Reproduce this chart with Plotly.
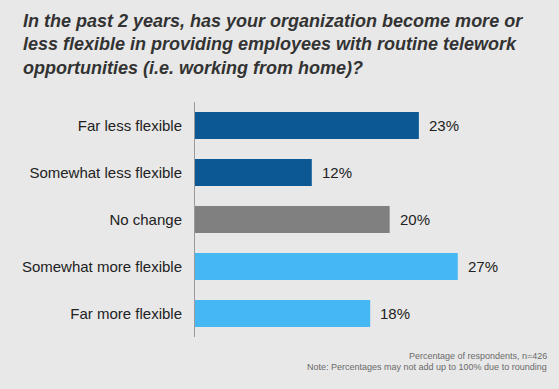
import plotly.graph_objects as go

categories = ["Far less flexible", "Somewhat less flexible", "No change",
              "Somewhat more flexible", "Far more flexible"]
values = [23, 12, 20, 27, 18]
bar_colors = ["#0b5894", "#0b5894", "#808080", "#45b8f3", "#45b8f3"]
value_labels = [f"{v}%" for v in values]

title_text = ("In the past 2 years, has your organization become more or<br>"
              "less flexible in providing employees with routine telework<br>"
              "opportunities (i.e. working from home)?")
note1 = "Percentage of respondents, n=426"
note2 = "Note: Percentages may not add up to 100% due to rounding"

BG = "#e8e8e8"
FONT = "Liberation Sans, Arial, sans-serif"
L, R, T, B = 195, 72, 102, 52
PW = 559 - L - R

fig = go.Figure(go.Bar(
    x=values, y=categories, orientation="h",
    marker=dict(color=bar_colors, line=dict(width=0)),
    width=0.575, hoverinfo="skip",
))

for v, c, t in zip(values, categories, value_labels):
    fig.add_annotation(x=v, y=c, text=t, showarrow=False, xanchor="left",
                       xshift=8, font=dict(size=15, color="#222222", family=FONT))

fig.add_annotation(xref="paper", yref="paper", x=(21 - L) / PW, y=1,
                   text=title_text, showarrow=False, xanchor="left",
                   yanchor="top", align="left", yshift=T - 9,
                   font=dict(size=18, color="#333333", family=FONT,
                             weight="bold", style="italic"))

fig.add_annotation(xref="paper", yref="paper", x=1, y=0, text=note1,
                   showarrow=False, xanchor="right", yanchor="middle",
                   xshift=62, yshift=-19,
                   font=dict(size=9, color="#6a6a6a", family=FONT))
fig.add_annotation(xref="paper", yref="paper", x=1, y=0, text=note2,
                   showarrow=False, xanchor="right", yanchor="middle",
                   xshift=62, yshift=-29.5,
                   font=dict(size=9, color="#6a6a6a", family=FONT))

fig.update_layout(
    width=559, height=389,
    paper_bgcolor=BG, plot_bgcolor=BG,
    margin=dict(l=L, r=R, t=T, b=B),
    showlegend=False,
    xaxis=dict(range=[0, 30], visible=False, fixedrange=True),
    yaxis=dict(categoryorder="array", categoryarray=categories,
               autorange="reversed", showline=True, linecolor="#9a9a9a",
               linewidth=1, showgrid=False, zeroline=False,
               ticks="", ticklabelstandoff=9, fixedrange=True,
               tickfont=dict(size=15, color="#222222", family=FONT)),
)

fig.write_html("out.html", config={"displayModeBar": False},
               post_script="document.body.style.margin='0';"
                           "document.body.style.background='#e8e8e8';")
